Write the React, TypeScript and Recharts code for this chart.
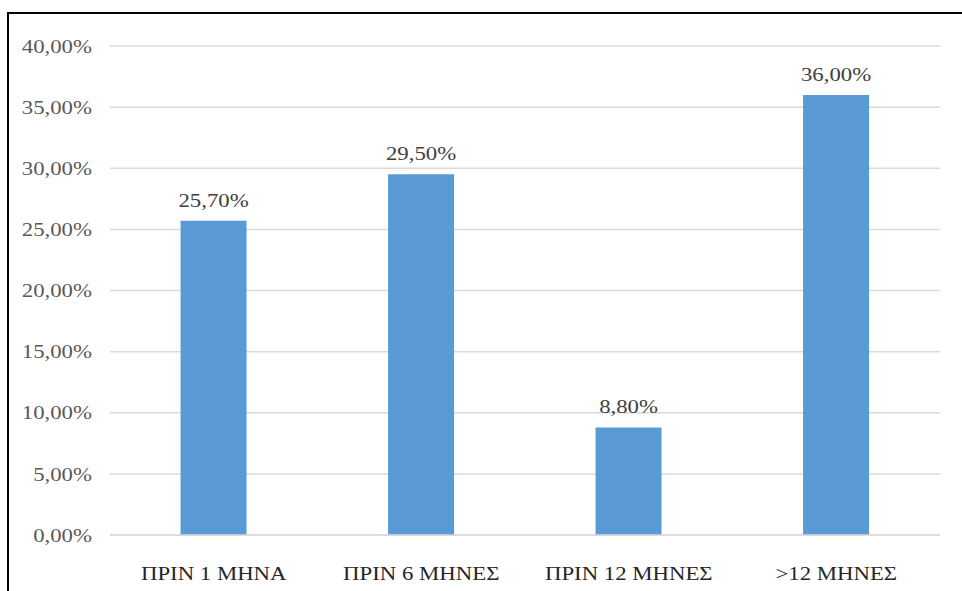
import { BarChart, Bar, XAxis, YAxis, CartesianGrid, LabelList } from "recharts";

const categories = ["ΠΡΙΝ 1 ΜΗΝΑ", "ΠΡΙΝ 6 ΜΗΝΕΣ", "ΠΡΙΝ 12 ΜΗΝΕΣ", ">12 ΜΗΝΕΣ"];
const shares = [25.7, 29.5, 8.8, 36.0];
const yTicks = [0, 5, 10, 15, 20, 25, 30, 35, 40];

const data = categories.map((name, i) => ({ name, value: shares[i] }));

const fmtPct = (v: number) => `${v.toFixed(2).replace(".", ",")}%`;

const FONT = "'Times New Roman', 'Liberation Serif', 'DejaVu Serif', serif";
const STRETCH = 1.2;

const XTick = ({ x, y, payload }: any) => (
  <text
    transform={`translate(${x},${y}) scale(${STRETCH},1)`}
    textAnchor="middle" dy="0.71em"
    style={{ fontFamily: FONT }} fontSize={19} fill="#262626"
  >
    {payload.value}
  </text>
);

const YTick = ({ x, y, payload }: any) => (
  <text
    transform={`translate(${x},${y}) scale(${STRETCH},1)`}
    textAnchor="end" dy="0.35em"
    style={{ fontFamily: FONT }} fontSize={19} fill="#595959"
  >
    {fmtPct(payload.value)}
  </text>
);

const BarLabel = ({ x, y, width, value }: any) => (
  <text
    transform={`translate(${x + width / 2},${y - 14}) scale(${STRETCH},1)`}
    textAnchor="middle"
    style={{ fontFamily: FONT }} fontSize={19} fill="#404040"
  >
    {fmtPct(Number(value))}
  </text>
);

export default function App() {
  return (
    <div style={{ position: "absolute", left: 0, top: 0, width: 962, height: 591, background: "#fff", overflow: "hidden", fontFamily: FONT }}>
      <div style={{
        position: "absolute", left: 7, top: 12, width: 1000, height: 700,
        borderTop: "2px solid #000", borderLeft: "2px solid #000",
      }} />
      <div style={{ position: "absolute", left: 0, top: 0 }}>
        <BarChart
          width={962} height={591} data={data}
          margin={{ top: 46, right: 22, bottom: 0, left: 0 }}
          barCategoryGap="34%"
        >
          <CartesianGrid stroke="#d9d9d9" strokeWidth={1.5} vertical={false} />
          <XAxis
            dataKey="name"
            height={56}
            tickSize={0}
            tickMargin={32}
            axisLine={{ stroke: "#d9d9d9", strokeWidth: 1.5 }}
            tickLine={false}
            tick={<XTick />}
          />
          <YAxis
            width={110}
            domain={[0, 40]}
            ticks={yTicks}
            tickSize={0}
            tickMargin={18}
            axisLine={false}
            tickLine={false}
            tick={<YTick />}
          />
          <Bar dataKey="value" fill="#5b9bd5" isAnimationActive={false}>
            <LabelList dataKey="value" content={<BarLabel />} />
          </Bar>
        </BarChart>
      </div>
    </div>
  );
}
